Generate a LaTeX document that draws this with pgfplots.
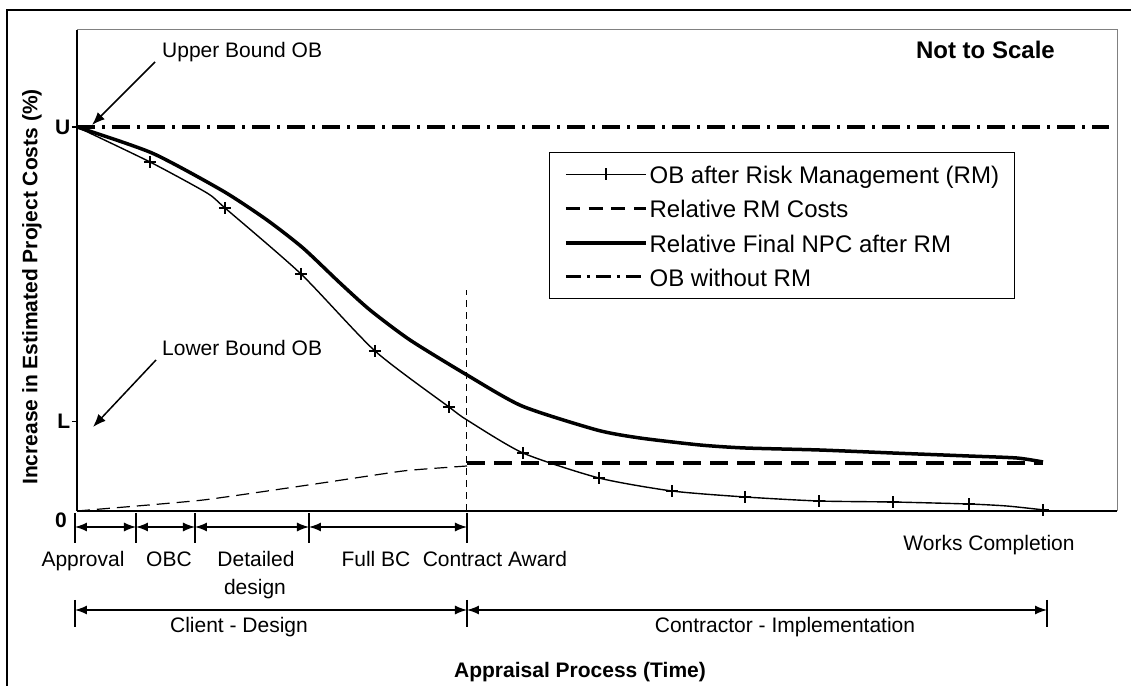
\documentclass[border=0pt]{standalone}
\usepackage{fontspec}
\setmainfont{Liberation Sans}
\usepackage{pgfplots}
\pgfplotsset{compat=1.18}
\usetikzlibrary{arrows.meta}
\newcommand\lfont{\fontsize{21bp}{25bp}\selectfont}
\newcommand\Lfont{\fontsize{24bp}{28bp}\selectfont}
\newcommand\ls{\rule[-8bp]{0pt}{28bp}}
\begin{document}
\begin{tikzpicture}
\useasboundingbox (-77bp,-175bp) rectangle (1054bp,511bp);
\begin{axis}[
  scale only axis, width=1040bp, height=481bp,
  xmin=0, xmax=1040, ymin=0, ymax=125.26,
  axis x line=bottom, axis y line=left,
  axis line style={-, line width=2bp, black},
  every outer x axis line/.append style={-},
  every outer y axis line/.append style={-},
  xtick=\empty,
  ytick={23.4,100}, yticklabels={\textbf{L},\textbf{U}},
  yticklabel style={font=\lfont\bfseries, inner sep=1.5bp},
  ytick style={line width=1.2bp, black},
  tick align=outside, major tick length=5bp,
  clip=false,
  legend style={at={(axis cs:472,93.49)}, anchor=north west, draw=black, line width=1.3bp,
    font=\Lfont, inner xsep=14bp, inner ysep=11bp, row sep=12.7bp,
    nodes={inner xsep=1.5bp, inner ysep=0bp}},
  legend cell align=left,
  legend image code/.code={\draw[mark repeat=2,mark phase=2,#1] plot coordinates {(0bp,0bp) (40bp,0bp) (80bp,0bp)};},
]
% OB after Risk Management (thin, + markers)
\addplot[forget plot, black, line width=1.4bp, smooth, tension=0.4,
  mark=+, mark size=6bp, mark options={line width=1.6bp, solid},
  mark indices={2,4,5,6,7,9,10,11,12,13,14,15,17}] coordinates {
  (0,100) (73,90.89) (130,82.81) (148,78.91) (224,61.72) (298,41.67) (372,27.08)
  (390,23.70) (446,15.10) (522,8.59) (595,5.21) (668,3.65) (742,2.60) (816,2.34)
  (892,1.82) (930,1.30) (966,0.3)};
% Relative Final NPC after RM (thick)
\addplot[forget plot, black, line width=3.5bp, smooth, tension=0.4] coordinates {
  (0,100) (75,93.23) (146,83.33) (190,75.78) (226,68.49) (263,59.38) (293,52.34)
  (333,44.53) (390,35.42) (445,27.34) (520,21.09) (563,19.01) (623,17.19) (668,16.41)
  (742,15.89) (816,15.10) (892,14.32) (940,13.80) (966,12.76)};
% Relative RM Costs (dashed)
\addplot[forget plot, black, line width=1.2bp, dash pattern=on 13bp off 7bp, smooth, tension=0.3] coordinates {
  (0,0) (23,0.5) (126,2.86) (238,7.03) (326,10.42) (376,11.46) (390,11.72)};
\addplot[forget plot, black, line width=3.3bp, dash pattern=on 18bp off 9bp] coordinates {
  (390,12.5) (966,12.5)};
% OB without RM (dash-dot)
\addplot[forget plot, black, line width=3.3bp, dash pattern=on 18bp off 7bp on 3bp off 7bp] coordinates {
  (0,100) (1032,100)};
% contract award reference line
\draw[line width=1bp, dash pattern=on 7bp off 5bp] (axis cs:390,0) -- (axis cs:390,57.55);

\addlegendimage{black, line width=1.3bp, mark=+, mark size=6bp, mark options={line width=1.4bp, solid}}
\addlegendentry{\ls OB after Risk Management (RM)\hspace{16bp}}
\addlegendimage{black, line width=3bp, dash pattern=on 14bp off 8.7bp}
\addlegendentry{\ls Relative RM Costs}
\addlegendimage{black, line width=4.5bp}
\addlegendentry{\ls Relative Final NPC after RM}
\addlegendimage{black, line width=3bp, dash pattern=on 15bp off 6bp on 3bp off 6bp}
\addlegendentry{\ls OB without RM}
\end{axis}

\begin{scope}[shift={(-77bp,511bp)}, x=1bp, y=-1bp]
  % outer frame
  \draw[line width=2bp] (7,700) -- (7,10) -- (1140,10);
  % top and right of plot box
  \draw[gray, line width=1bp] (77,30) -- (1117,30) -- (1117,511);
  % zero label
  \node[font=\lfont\bfseries, inner sep=0] at (61,520) {0};
  % y label
  \node[rotate=90, font=\lfont\bfseries, inner sep=0] at (32,287) {Increase in Estimated Project Costs (\%)};
  % annotations
  \node[anchor=base west, inner sep=0, font=\lfont] at (162,57.5) {Upper Bound OB};
  \draw[line width=1.5bp, -{Latex[length=13bp, width=10bp]}] (155,62) -- (92,125);
  \node[anchor=base west, inner sep=0, font=\lfont] at (162,355.5) {Lower Bound OB};
  \draw[line width=1.5bp, -{Latex[length=13bp, width=10bp]}] (156,360) -- (93,427);
  \node[anchor=base east, inner sep=0, font=\Lfont\bfseries] at (1055,58.6) {Not to Scale};
  % first dimension row
  \foreach \a/\b in {75/136,136/195,195/309,309/467}
    \draw[line width=1.3bp, {Latex[length=12bp,width=9bp]}-{Latex[length=12bp,width=9bp]}] (\a,527) -- (\b,527);
  \foreach \x in {75,136,195,309,467}
    \draw[line width=1.5bp] (\x,513) -- (\x,543);
  % second dimension row
  \draw[line width=1.3bp, {Latex[length=12bp,width=9bp]}-{Latex[length=12bp,width=9bp]}] (75,610) -- (467,610);
  \draw[line width=1.3bp, {Latex[length=12bp,width=9bp]}-{Latex[length=12bp,width=9bp]}] (467,610) -- (1047,610);
  \foreach \x in {75,467,1047}
    \draw[line width=1.5bp] (\x,600) -- (\x,627);
  % phase labels
  \node[anchor=base, inner sep=0, font=\lfont] at (83,567) {Approval};
  \node[anchor=base, inner sep=0, font=\lfont] at (169,567) {OBC};
  \node[anchor=base, inner sep=0, font=\lfont] at (256,567) {Detailed};
  \node[anchor=base, inner sep=0, font=\lfont] at (255,595) {design};
  \node[anchor=base, inner sep=0, font=\lfont] at (376,567) {Full BC};
  \node[anchor=base, inner sep=0, font=\lfont] at (495,567) {Contract Award};
  \node[anchor=base, inner sep=0, font=\lfont] at (989,550.5) {Works Completion};
  \node[anchor=base, inner sep=0, font=\lfont] at (239,633) {Client - Design};
  \node[anchor=base, inner sep=0, font=\lfont] at (785,633) {Contractor - Implementation};
  \node[anchor=base, inner sep=0, font=\lfont\bfseries] at (580,677.5) {Appraisal Process (Time)};
\end{scope}
\end{tikzpicture}
\end{document}
